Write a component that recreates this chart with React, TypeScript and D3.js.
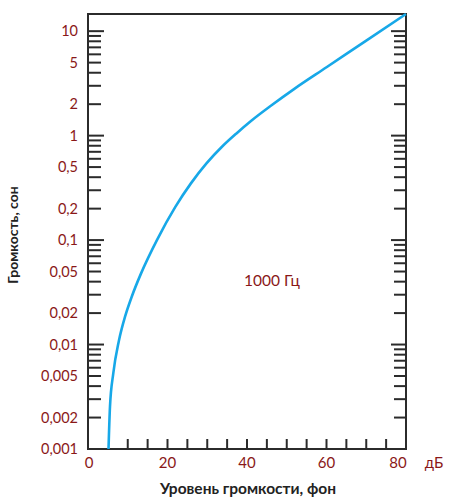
import React from "react";
import * as d3 from "d3";

const phon = [5.16, 5.53, 6.36, 7.8, 9.32, 11.0, 13.35, 17.34, 21.97, 25.89, 29.8, 33.7, 37.35, 41, 46, 52, 60, 70, 80];
const sone = [0.001, 0.00254, 0.0053, 0.011, 0.0185, 0.0287, 0.048, 0.1, 0.208, 0.349, 0.542, 0.782, 1.05, 1.38, 1.93, 2.82, 4.51, 8.12, 14.6];

const yLabelValues = [10, 5, 2, 1, 0.5, 0.2, 0.1, 0.05, 0.02, 0.01, 0.005, 0.002, 0.001];
const yLabelTexts = ["10", "5", "2", "1", "0,5", "0,2", "0,1", "0,05", "0,02", "0,01", "0,005", "0,002", "0,001"];
const decades = [0.001, 0.01, 0.1, 1];
const majors = [0.01, 0.1, 1, 10];
const xLabelValues = [0, 20, 40, 60, 80];
const xTickValues = [10, 15, 20, 25, 30, 35, 40, 45, 50, 55, 60, 65, 70, 75];

const W = 450, H = 502;
const LEFT = 88, RIGHT = 406, TOP = 14, BOTTOM = 449;
const RED = "#8a1818";
const AX = "#2b2b2b";
const FONT = "Lato, 'Noto Sans', sans-serif";

export default function App() {
  const x = d3.scaleLinear().domain([0, 80]).range([LEFT, RIGHT]);
  const y = d3.scaleLog().domain([0.001, 14.6]).range([BOTTOM, TOP]);

  const minorTicks: number[] = [];
  decades.forEach((d) => {
    for (let k = 2; k <= 9; k++) minorTicks.push(d * k);
  });

  const pts: [number, number][] = phon.map((p, i) => [x(p), y(sone[i])]);
  const line = d3.line().curve(d3.curveMonotoneX)(pts) || "";

  return (
    <svg width={W} height={H} style={{ position: "absolute", left: 0, top: 0 }} fontFamily={FONT}>
      <rect x={0} y={0} width={W} height={H} fill="#fff" />
      {majors.map((v) => (
        <g key={"mj" + v}>
          <line x1={LEFT} x2={LEFT + 16} y1={y(v)} y2={y(v)} stroke={AX} strokeWidth={2} />
          <line x1={RIGHT} x2={RIGHT - 15} y1={y(v)} y2={y(v)} stroke={AX} strokeWidth={2} />
        </g>
      ))}
      {minorTicks.map((v) => (
        <g key={"mn" + v}>
          <line x1={LEFT} x2={LEFT + 13} y1={y(v)} y2={y(v)} stroke={AX} strokeWidth={2} />
          <line x1={RIGHT} x2={RIGHT - 12} y1={y(v)} y2={y(v)} stroke={AX} strokeWidth={2} />
        </g>
      ))}
      {xTickValues.map((v) => (
        <line key={"xt" + v} x1={x(v)} x2={x(v)} y1={BOTTOM} y2={BOTTOM - 10} stroke={AX} strokeWidth={2} />
      ))}
      <path d={`M${LEFT},${TOP}H${RIGHT}V${BOTTOM}H${LEFT}Z`} fill="none" stroke={AX} strokeWidth={2} />
      <path d={line} fill="none" stroke="#17a8e8" strokeWidth={2.6} strokeLinecap="butt" />
      {yLabelValues.map((v, i) => (
        <text key={"yl" + v} x={78} y={y(v)} dy="0.35em" textAnchor="end" fill={RED} fontSize={14.5}>
          {yLabelTexts[i]}
        </text>
      ))}
      {xLabelValues.map((v) => (
        <text key={"xl" + v} x={x(v) + (v === 80 ? -8 : v === 0 ? 1 : 0)} y={463} dy="0.35em" textAnchor="middle" fill={RED} fontSize={15}>
          {v}
        </text>
      ))}
      <text x={434} y={463} dy="0.35em" textAnchor="middle" fill={RED} fontSize={15}>дБ</text>
      <text x={272} y={281} dy="0.35em" textAnchor="middle" fill={RED} fontSize={15.5}>1000 Гц</text>
      <text x={248} y={489} dy="0.35em" textAnchor="middle" fill="#222" fontSize={15.5} fontWeight="bold">
        Уровень громкости, фон
      </text>
      <text transform={`translate(18,235) rotate(-90)`} textAnchor="middle" fill="#222" fontSize={14} fontWeight="bold">
        Громкость, сон
      </text>
    </svg>
  );
}
